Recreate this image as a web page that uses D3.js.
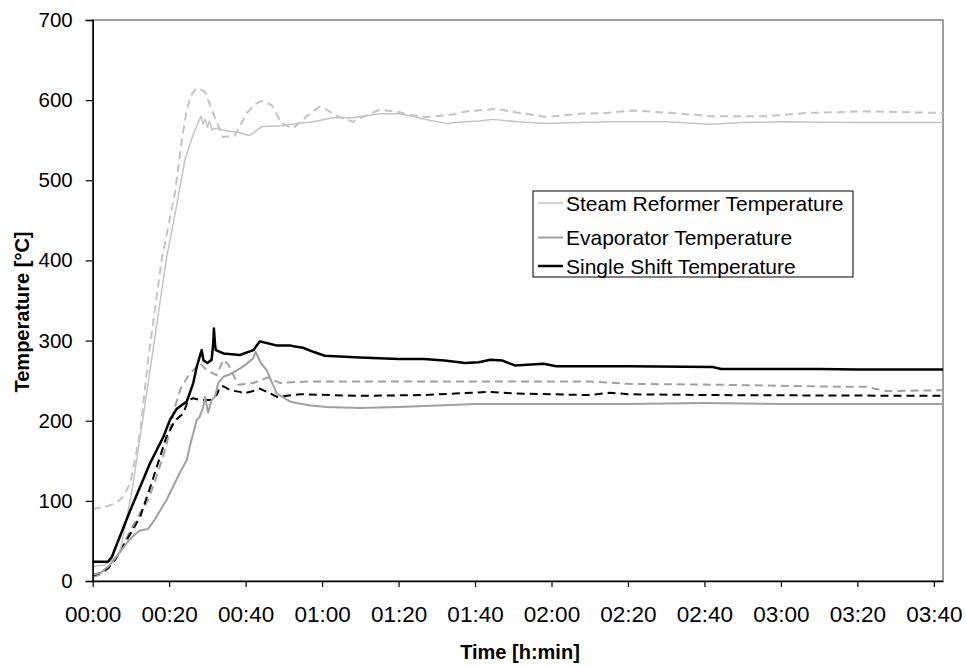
<!DOCTYPE html>
<html>
<head>
<meta charset="utf-8">
<script src="https://cdn.jsdelivr.net/npm/d3@7"></script>
<style>
  body { margin: 0; background: #fff; }
  svg { display: block; font-family: "Liberation Sans", Arial, sans-serif; }
</style>
</head>
<body>
<svg id="chart" width="966" height="666"></svg>
<script>
// ---- data (time in minutes, temperature in °C) ----
const xTickValues = [0, 20, 40, 60, 80, 100, 120, 140, 160, 180, 200, 220];
const xTickLabels = ["00:00","00:20","00:40","01:00","01:20","01:40","02:00","02:20","02:40","03:00","03:20","03:40"];
const yTickValues = [0, 100, 200, 300, 400, 500, 600, 700];

const steamT = [0,3,5,7.1,10.3,12.1,15.4,19.2,22,24.1,25.2,26.5,28.3,28.8,29.4,30,30.5,31.2,32.4,34,35.9,38,41,42,44.2,49.8,52,57.7,62.8,68,75,80,83.8,88,92.6,97,101.3,104.7,111,118.7,127,135.3,150,161.4,170,180,200,222.4];
const steamV = [18,20,26,35,113,170,276,400,470,525,542,560,580,570,576,566,574,563,565,563,561,560,556,559,567,568,570,573,578,578,583,583,580,575,571,573,574,576,573,571,572,573,573,570,572,573,572,572];

const steamDT = [0,3,6,8,9.8,11,12.4,14.5,18,21.5,23.3,24.6,26,27.2,28.3,29.4,31.5,34,37.2,40.3,42.5,44.2,46.8,49.4,52.4,56,59.4,61.2,64,68,72,75,80.4,82.1,87.3,94.2,97.8,105.6,111.7,118.7,127.4,134.4,141.3,151.7,161.4,176.2,186.7,202.4,222.4];
const steamDV = [90,92,97,105,122,150,185,276,400,484,550,588,608,615,613,610,584,554,556,584,595,599,594,571,565,580,592,588,580,573,582,588,585,582,579,582,586,589,584,579,583,584,587,584,580,580,584,586,584];

const evapT = [0,2,4.5,7,9,11,12.4,14.5,16,19.3,22.8,24.6,25.4,27.2,28,28.9,29.4,30.2,31,32,32.8,34.2,36,38.5,40,42,42.6,44,45.5,48.1,51.6,53.3,57,61.2,69.9,80,90,100,120,140,160,180,200,222.4];
const evapV = [8,10,20,35,48,58,63,65,75,101,135,151,168,201,205,217,230,210,225,230,247,255,258,265,270,278,286,272,263,234,224,222,219,217,216,217,219,221,221,221,222,221,221,221];

const evapDT = [0,2,4,6,8,10,12.4,14.5,16.7,19,20.2,21.5,23,25.4,27.2,28,29.8,32.4,34.2,35.5,38,40,42,45.9,49,52,56.8,69.9,90,129.8,140,162,194.6,202,207.6,222.4];
const evapDV = [5,8,15,28,45,65,85,101,130,165,188,217,240,259,267,272,263,257,276,270,245,246,247,254,247,248,249,249,249,249,246,245,242.5,242.5,237,238];

const shiftT = [0,4,5,9.8,15,18.5,20.2,22,24.6,26.3,27.2,28,28.5,29,29.4,30,31.1,31.5,31.7,32,32.2,34.2,38.5,42,43.7,45.5,48,51.6,52.5,55,57.7,60.7,69.9,80,86.6,92,97.4,101,104,107.2,110.4,118,121.2,140,162.2,164.4,190,200,222.4];
const shiftV = [24,24,30,88,147,180,201,215,224,247,267,280,288,275,274,272,276,295,315,295,288,284,282,288,299,297,294,294,293,291,286,281,279,277,277,275,272,273,276,275,269,271,268,268,267,264.5,264.5,264,264];

const shiftDT = [0,2,4,5.8,9,12.4,15.4,19.3,21.5,23.7,25,26.3,28,30.7,32.4,33.3,34.2,36,38.5,39.4,42,43.7,46,48.1,49,54.2,69.9,86.6,103.9,110,129.8,135.3,140,162,222.4];
const shiftDV = [7,10,16,26,52,80,122,180,200,209,226,228,226,226,232,242,243,238,236,234,237,240,235,230,230,233,231,232,236,234,232,235,233,232,231];

const legendNames = ["Steam Reformer Temperature", "Evaporator Temperature", "Single Shift Temperature"];

// ---- drawing ----
const svg = d3.select("#chart");
const pLeft = 92.7, pRight = 943, pTop = 20, pBottom = 581;
const x = d3.scaleLinear().domain([0, 222.4]).range([pLeft, pRight]);
const y = d3.scaleLinear().domain([0, 700]).range([pBottom, pTop]);

// plot area frame
svg.append("rect").attr("x", pLeft).attr("y", pTop).attr("width", pRight - pLeft).attr("height", pBottom - pTop)
  .attr("fill", "#fff").attr("stroke", "#808080").attr("stroke-width", 1.5);

const series = [
  {t: steamDT, v: steamDV, color: "#c4c4c4", w: 2, dash: "8,5"},
  {t: evapDT,  v: evapDV,  color: "#a0a0a0", w: 2, dash: "8,5"},
  {t: shiftDT, v: shiftDV, color: "#000000", w: 2, dash: "8,5"},
  {t: steamT,  v: steamV,  color: "#c4c4c4", w: 1.5, dash: null},
  {t: evapT,   v: evapV,   color: "#a0a0a0", w: 2, dash: null},
  {t: shiftT,  v: shiftV,  color: "#000000", w: 2.5, dash: null}
];

const line = d3.line().x(d => x(d[0])).y(d => y(d[1]));
series.forEach(s => {
  const pts = s.t.map((t, i) => [t, s.v[i]]);
  svg.append("path").datum(pts).attr("d", line)
    .attr("fill", "none").attr("stroke", s.color).attr("stroke-width", s.w)
    .attr("stroke-linejoin", "round")
    .attr("stroke-dasharray", s.dash);
});

// axes
const yAxis = d3.axisLeft(y).tickValues(yTickValues).tickFormat(d3.format("d")).tickSize(7).tickPadding(13);
const gy = svg.append("g").attr("transform", `translate(${pLeft},0)`).call(yAxis);
gy.select(".domain").attr("stroke", "#000").attr("stroke-width", 1.5);
gy.selectAll(".tick line").attr("stroke", "#000").attr("stroke-width", 1.2);
gy.selectAll("text").attr("font-size", 20.5).attr("fill", "#000").attr("font-family", "Liberation Sans, Arial, sans-serif");

const xAxis = d3.axisBottom(x).tickValues(xTickValues).tickFormat((d, i) => xTickLabels[i]).tickSize(6).tickPadding(19).tickSizeOuter(0);
const gx = svg.append("g").attr("transform", `translate(0,${pBottom})`).call(xAxis);
gx.select(".domain").attr("stroke", "#000").attr("stroke-width", 1.5);
gx.selectAll(".tick line").attr("stroke", "#000").attr("stroke-width", 1.2);
gx.selectAll("text").attr("font-size", 22.5).attr("fill", "#000").attr("font-family", "Liberation Sans, Arial, sans-serif");

// axis titles
svg.append("text").attr("transform", "translate(29,312) rotate(-90)")
  .attr("text-anchor", "middle").attr("font-weight", "bold").attr("font-size", 20)
  .text("Temperature [°C]");
svg.append("text").attr("x", 520).attr("y", 659)
  .attr("text-anchor", "middle").attr("font-weight", "bold").attr("font-size", 20)
  .text("Time [h:min]");

// legend
const lg = svg.append("g");
lg.append("rect").attr("x", 533).attr("y", 191).attr("width", 320).attr("height", 86)
  .attr("fill", "#fff").attr("stroke", "#000").attr("stroke-width", 1);
const legendY = [203, 237.5, 266];
const legendSeries = [series[3], series[4], series[5]];
legendNames.forEach((n, i) => {
  lg.append("line").attr("x1", 538).attr("x2", 563).attr("y1", legendY[i]).attr("y2", legendY[i])
    .attr("stroke", legendSeries[i].color).attr("stroke-width", legendSeries[i].w);
  lg.append("text").attr("x", 566).attr("y", legendY[i] + 7.5).attr("font-size", 21).text(n);
});
</script>
</body>
</html>
